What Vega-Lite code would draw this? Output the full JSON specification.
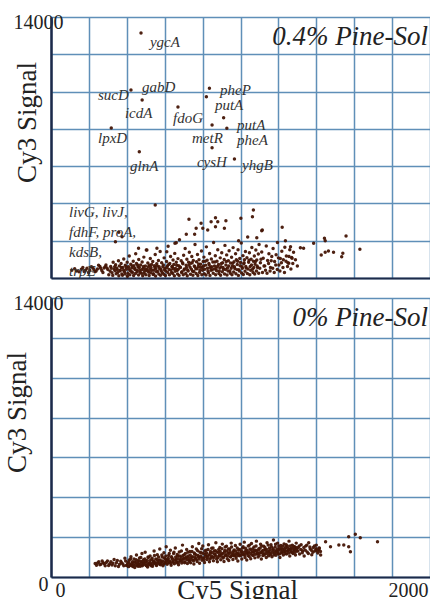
{
"$schema": "https://vega.github.io/schema/vega-lite/v6.json",
"background": "white",
"padding": {"left": 3, "top": 12, "right": 0, "bottom": 0},
"spacing": 20,
"bounds": "flush",
"config": {"view": {"stroke": null}, "axis": {"labelFont": "Liberation Serif", "titleFont": "Liberation Serif", "labelColor": "#222222", "titleColor": "#222222", "titleFontWeight": "normal", "gridColor": "#5f8fb8", "gridWidth": 1.5, "gridOpacity": 1, "domainColor": "#1c2a4a", "ticks": false, "labelOverlap": false, "labelFlush": false, "tickCount": 30}},
"datasets": {
"top": [
{"x":110,"y":420},{"x":135,"y":380},{"x":160,"y":470},{"x":175,"y":350},{"x":190,"y":520},{"x":205,"y":410},{"x":220,"y":560},{"x":232,"y":330},{"x":245,"y":480},{"x":258,"y":620},{"x":268,"y":400},{"x":280,"y":540},{"x":290,"y":700},{"x":300,"y":450},{"x":312,"y":360},
{"x":125,"y":500},{"x":148,"y":330},{"x":168,"y":560},{"x":183,"y":420},{"x":198,"y":300},{"x":213,"y":600},{"x":226,"y":460},{"x":238,"y":380},{"x":251,"y":690},{"x":262,"y":520},{"x":274,"y":300},{"x":286,"y":610},{"x":296,"y":540},
{"x":315,"y":620},{"x":322,"y":280},{"x":328,"y":850},{"x":333,"y":470},{"x":338,"y":390},{"x":341,"y":710},
{"x":347,"y":540},{"x":352,"y":300},{"x":356,"y":930},{"x":361,"y":650},{"x":366,"y":420},{"x":370,"y":780},{"x":374,"y":210},
{"x":379,"y":560},{"x":384,"y":1020},{"x":388,"y":340},{"x":392,"y":690},{"x":397,"y":470},{"x":402,"y":850},{"x":406,"y":250},{"x":409,"y":610},
{"x":413,"y":1180},{"x":417,"y":400},{"x":421,"y":740},{"x":426,"y":530},{"x":430,"y":290},{"x":434,"y":900},{"x":438,"y":660},
{"x":443,"y":450},{"x":447,"y":1300},{"x":451,"y":780},{"x":455,"y":330},{"x":459,"y":590},{"x":463,"y":990},{"x":468,"y":420},
{"x":473,"y":700},{"x":477,"y":260},{"x":481,"y":860},{"x":486,"y":520},{"x":490,"y":1120},{"x":494,"y":380},{"x":498,"y":640},
{"x":503,"y":1500},{"x":507,"y":470},{"x":511,"y":800},{"x":516,"y":310},{"x":520,"y":690},{"x":524,"y":1050},{"x":528,"y":560},
{"x":533,"y":420},{"x":537,"y":880},{"x":541,"y":230},{"x":546,"y":660},{"x":550,"y":1260},{"x":554,"y":500},{"x":558,"y":760},
{"x":563,"y":350},{"x":567,"y":940},{"x":571,"y":610},{"x":576,"y":1420},{"x":580,"y":470},{"x":584,"y":820},{"x":588,"y":280},
{"x":593,"y":700},{"x":597,"y":1080},{"x":601,"y":520},{"x":606,"y":380},{"x":610,"y":890},{"x":614,"y":640},{"x":618,"y":1700},
{"x":623,"y":460},{"x":627,"y":780},{"x":631,"y":1150},{"x":636,"y":300},{"x":640,"y":590},{"x":644,"y":960},{"x":648,"y":720},
{"x":653,"y":1320},{"x":657,"y":510},{"x":661,"y":850},{"x":666,"y":400},{"x":670,"y":1040},{"x":674,"y":660},{"x":678,"y":2050},
{"x":683,"y":560},{"x":687,"y":920},{"x":691,"y":340},{"x":696,"y":760},{"x":700,"y":1220},{"x":704,"y":480},{"x":708,"y":1580},
{"x":713,"y":690},{"x":717,"y":1010},{"x":721,"y":430},{"x":726,"y":850},{"x":730,"y":1380},{"x":734,"y":580},{"x":738,"y":790},
{"x":743,"y":1150},{"x":747,"y":360},{"x":751,"y":940},{"x":756,"y":640},{"x":760,"y":1800},{"x":764,"y":500},{"x":768,"y":870},
{"x":773,"y":1260},{"x":777,"y":620},{"x":781,"y":980},{"x":786,"y":410},{"x":790,"y":740},{"x":794,"y":1450},{"x":798,"y":560},
{"x":803,"y":880},{"x":807,"y":1120},{"x":811,"y":470},{"x":816,"y":690},{"x":820,"y":1670},{"x":824,"y":950},{"x":828,"y":380},
{"x":833,"y":780},{"x":837,"y":1310},{"x":841,"y":560},{"x":846,"y":1020},{"x":850,"y":440},{"x":854,"y":860},{"x":858,"y":1900},
{"x":863,"y":650},{"x":867,"y":1190},{"x":871,"y":510},{"x":876,"y":900},{"x":880,"y":1520},{"x":884,"y":720},{"x":888,"y":380},
{"x":893,"y":1080},{"x":897,"y":600},{"x":901,"y":1350},{"x":906,"y":820},{"x":910,"y":470},{"x":914,"y":990},{"x":918,"y":1750},
{"x":923,"y":700},{"x":927,"y":1240},{"x":931,"y":540},{"x":936,"y":920},{"x":940,"y":1460},{"x":944,"y":380},{"x":948,"y":800},
{"x":953,"y":1110},{"x":957,"y":640},{"x":961,"y":1630},{"x":966,"y":870},{"x":970,"y":510},{"x":974,"y":1300},{"x":978,"y":980},
{"x":983,"y":720},{"x":987,"y":1520},{"x":991,"y":450},{"x":996,"y":1050},{"x":1000,"y":830},{"x":1004,"y":1880},{"x":1008,"y":600},
{"x":1013,"y":1200},{"x":1017,"y":760},{"x":1021,"y":980},{"x":1026,"y":1420},{"x":1030,"y":540},{"x":1034,"y":1090},{"x":1038,"y":2200},
{"x":1043,"y":850},{"x":1047,"y":1350},{"x":1051,"y":620},{"x":1056,"y":1010},{"x":1060,"y":1640},{"x":1064,"y":470},{"x":1068,"y":900},
{"x":1073,"y":1180},{"x":1077,"y":740},{"x":1081,"y":1500},{"x":1086,"y":960},{"x":1090,"y":560},{"x":1094,"y":1290},{"x":1098,"y":1800},
{"x":1105,"y":820},{"x":1112,"y":1400},{"x":1120,"y":1060},{"x":1128,"y":650},{"x":1136,"y":1720},{"x":1143,"y":940},{"x":1150,"y":1300},{"x":1158,"y":560},{"x":1165,"y":1150},{"x":1172,"y":1580},{"x":1180,"y":880},{"x":1188,"y":1250},{"x":1195,"y":1900},{"x":1203,"y":700},{"x":1210,"y":1050},{"x":1218,"y":1430},{"x":1226,"y":980},{"x":1234,"y":1650},{"x":1242,"y":1180},{"x":1250,"y":820},{"x":1260,"y":1520},{"x":1270,"y":1100},{"x":1280,"y":1380},
{"x":305,"y":180},{"x":318,"y":520},{"x":326,"y":140},{"x":336,"y":600},{"x":344,"y":230},{"x":350,"y":450},{"x":358,"y":120},{"x":363,"y":380},{"x":371,"y":560},{"x":377,"y":150},{"x":383,"y":420},{"x":391,"y":220},{"x":396,"y":600},{"x":403,"y":90},{"x":411,"y":480},{"x":416,"y":180},{"x":424,"y":350},{"x":428,"y":640},{"x":436,"y":130},{"x":441,"y":520},{"x":446,"y":240},{"x":453,"y":420},{"x":457,"y":700},{"x":462,"y":160},{"x":466,"y":560},{"x":471,"y":290},{"x":479,"y":440},{"x":484,"y":120},{"x":488,"y":620},{"x":492,"y":250},{"x":497,"y":480},{"x":501,"y":170},{"x":509,"y":380},{"x":514,"y":600},{"x":518,"y":130},{"x":522,"y":460},{"x":527,"y":280},{"x":531,"y":720},{"x":539,"y":190},{"x":544,"y":410},{"x":548,"y":560},{"x":552,"y":110},{"x":557,"y":330},{"x":561,"y":640},{"x":569,"y":220},{"x":573,"y":500},{"x":578,"y":150},{"x":582,"y":380},{"x":590,"y":610},{"x":595,"y":200},{"x":599,"y":440},{"x":604,"y":130},{"x":612,"y":560},{"x":616,"y":290},{"x":621,"y":720},{"x":625,"y":170},{"x":633,"y":430},{"x":638,"y":620},{"x":642,"y":240},{"x":646,"y":500},{"x":651,"y":120},{"x":655,"y":360},{"x":663,"y":680},{"x":668,"y":210},{"x":672,"y":470},{"x":676,"y":140},{"x":681,"y":590},{"x":689,"y":300},{"x":694,"y":820},{"x":698,"y":170},{"x":702,"y":430},{"x":711,"y":240},{"x":715,"y":560},{"x":719,"y":120},{"x":724,"y":380},{"x":728,"y":690},{"x":736,"y":200},{"x":741,"y":470},{"x":745,"y":820},{"x":749,"y":150},{"x":754,"y":350},{"x":758,"y":620},{"x":766,"y":240},{"x":771,"y":500},{"x":775,"y":130},{"x":779,"y":750},{"x":784,"y":290},{"x":788,"y":580},{"x":796,"y":180},{"x":800,"y":420},{"x":805,"y":650},{"x":809,"y":230},{"x":814,"y":900},{"x":818,"y":160},{"x":826,"y":520},{"x":831,"y":280},{"x":835,"y":700},{"x":839,"y":140},{"x":844,"y":420},{"x":848,"y":610},{"x":856,"y":250},{"x":861,"y":480},{"x":865,"y":860},{"x":869,"y":170},{"x":874,"y":390},{"x":878,"y":620},{"x":886,"y":240},{"x":891,"y":530},{"x":895,"y":150},{"x":899,"y":780},{"x":904,"y":330},{"x":908,"y":560},{"x":916,"y":210},{"x":921,"y":460},{"x":925,"y":880},{"x":929,"y":160},{"x":934,"y":370},{"x":938,"y":640},{"x":946,"y":260},{"x":951,"y":520},{"x":955,"y":180},{"x":959,"y":790},{"x":964,"y":320},{"x":968,"y":600},{"x":976,"y":230},{"x":981,"y":450},{"x":985,"y":900},{"x":989,"y":140},{"x":994,"y":380},{"x":998,"y":660},{"x":1006,"y":270},{"x":1010,"y":520},{"x":1015,"y":190},{"x":1019,"y":820},{"x":1024,"y":360},{"x":1028,"y":620},{"x":1036,"y":240},{"x":1040,"y":480},{"x":1045,"y":950},{"x":1049,"y":180},{"x":1054,"y":410},{"x":1058,"y":700},{"x":1066,"y":300},{"x":1070,"y":560},{"x":1075,"y":210},{"x":1079,"y":880},{"x":1084,"y":370},{"x":1088,"y":640},{"x":1096,"y":250},{"x":1102,"y":520},{"x":1108,"y":1000},{"x":1116,"y":300},{"x":1124,"y":640},{"x":1132,"y":420},{"x":1140,"y":260},{"x":1148,"y":780},{"x":1156,"y":380},{"x":1162,"y":930},{"x":1170,"y":520},{"x":1178,"y":300},{"x":1186,"y":700},{"x":1194,"y":460},{"x":1200,"y":1080},{"x":1208,"y":380},{"x":1216,"y":820},{"x":1224,"y":560},{"x":1232,"y":300},{"x":1240,"y":900},{"x":1248,"y":620},{"x":1256,"y":1150},{"x":1266,"y":480},{"x":1276,"y":780},{"x":1290,"y":980},{"x":1300,"y":640},
{"x":1068,"y":3648},{"x":1002,"y":3202},{"x":1063,"y":3290},{"x":728,"y":3150},{"x":868,"y":3236},{"x":923,"y":3075},{"x":880,"y":3020},{"x":792,"y":2932},{"x":845,"y":3020},{"x":766,"y":2664},{"x":801,"y":2664},{"x":827,"y":2575},{"x":868,"y":2753},{"x":915,"y":2664},{"x":714,"y":2342},{"x":758,"y":2342},{"x":1112,"y":2539},{"x":1086,"y":2163},{"x":1220,"y":2717},{"x":1237,"y":2002},{"x":661,"y":1895},{"x":990,"y":2002},{"x":1115,"y":2575},
{"x":1443,"y":2127},{"x":1447,"y":2002},{"x":1557,"y":2253},{"x":1386,"y":1860},{"x":1630,"y":1540},{"x":1426,"y":1234},{"x":1464,"y":1448},{"x":1491,"y":1377},{"x":1540,"y":1323},{"x":1534,"y":1144},{"x":1447,"y":1377},{"x":1316,"y":1627},{"x":1264,"y":1680},{"x":1333,"y":1594},{"x":1272,"y":1057},{"x":1255,"y":790},
{"x":358,"y":2450},{"x":375,"y":2215},{"x":340,"y":1947},{"x":550,"y":3916},{"x":462,"y":1593},{"x":506,"y":1502},{"x":559,"y":1593},{"x":611,"y":1410},{"x":654,"y":1861},
{"x":475,"y":13140},{"x":422,"y":10085},{"x":481,"y":9548},{"x":670,"y":9172},{"x":318,"y":8046},{"x":836,"y":10175},{"x":820,"y":9725},{"x":911,"y":8598},{"x":850,"y":8207},{"x":928,"y":8030},{"x":850,"y":6990},{"x":968,"y":6383},{"x":466,"y":6775}
],
"bottom": [
{"x":233,"y":680},{"x":240,"y":590},{"x":252,"y":760},{"x":263,"y":640},{"x":275,"y":720},{"x":286,"y":560},{"x":298,"y":810},{"x":310,"y":670},{"x":322,"y":600},{"x":333,"y":880},{"x":345,"y":720},{"x":356,"y":530},{"x":368,"y":790},{"x":379,"y":650},{"x":390,"y":940},{"x":398,"y":580},
{"x":246,"y":700},{"x":258,"y":620},{"x":270,"y":800},{"x":281,"y":660},{"x":292,"y":730},{"x":304,"y":580},{"x":316,"y":760},{"x":327,"y":690},{"x":339,"y":560},{"x":350,"y":830},{"x":362,"y":640},{"x":373,"y":720},{"x":384,"y":560},{"x":394,"y":800},{"x":402,"y":610},
{"x":405,"y":700},{"x":409,"y":520},{"x":413,"y":860},{"x":418,"y":640},{"x":422,"y":1020},{"x":426,"y":580},{"x":430,"y":760},
{"x":434,"y":620},{"x":438,"y":900},{"x":442,"y":480},{"x":447,"y":730},{"x":451,"y":1100},{"x":455,"y":560},{"x":459,"y":820},
{"x":463,"y":670},{"x":467,"y":950},{"x":471,"y":540},{"x":476,"y":780},{"x":480,"y":1180},{"x":484,"y":610},{"x":488,"y":870},
{"x":493,"y":720},{"x":497,"y":1240},{"x":501,"y":590},{"x":506,"y":830},{"x":510,"y":500},{"x":514,"y":980},{"x":518,"y":680},
{"x":523,"y":1050},{"x":527,"y":630},{"x":531,"y":880},{"x":536,"y":540},{"x":540,"y":760},{"x":544,"y":1300},{"x":548,"y":690},
{"x":553,"y":900},{"x":557,"y":580},{"x":561,"y":1120},{"x":566,"y":720},{"x":570,"y":840},{"x":574,"y":1400},{"x":578,"y":620},
{"x":583,"y":770},{"x":587,"y":1000},{"x":591,"y":560},{"x":596,"y":1220},{"x":600,"y":690},{"x":604,"y":910},{"x":608,"y":1520},
{"x":613,"y":640},{"x":617,"y":850},{"x":621,"y":1080},{"x":626,"y":740},{"x":630,"y":1340},{"x":634,"y":590},{"x":638,"y":960},
{"x":643,"y":780},{"x":647,"y":1180},{"x":651,"y":660},{"x":656,"y":1460},{"x":660,"y":890},{"x":664,"y":720},{"x":668,"y":1050},
{"x":673,"y":620},{"x":677,"y":1250},{"x":681,"y":830},{"x":686,"y":1000},{"x":690,"y":700},{"x":694,"y":1600},{"x":698,"y":900},
{"x":703,"y":1120},{"x":707,"y":760},{"x":711,"y":940},{"x":716,"y":1380},{"x":720,"y":680},{"x":724,"y":1060},{"x":728,"y":840},
{"x":733,"y":1280},{"x":737,"y":720},{"x":741,"y":990},{"x":746,"y":1520},{"x":750,"y":860},{"x":754,"y":650},{"x":758,"y":1150},
{"x":763,"y":920},{"x":767,"y":1400},{"x":771,"y":780},{"x":776,"y":1080},{"x":780,"y":1680},{"x":784,"y":690},{"x":788,"y":1000},
{"x":793,"y":1220},{"x":797,"y":840},{"x":801,"y":1560},{"x":806,"y":960},{"x":810,"y":730},{"x":814,"y":1130},{"x":818,"y":1340},
{"x":823,"y":880},{"x":827,"y":1050},{"x":831,"y":1620},{"x":836,"y":770},{"x":840,"y":1190},{"x":844,"y":950},{"x":848,"y":1440},
{"x":853,"y":1000},{"x":857,"y":820},{"x":861,"y":1300},{"x":866,"y":1120},{"x":870,"y":1720},{"x":874,"y":900},{"x":878,"y":760},
{"x":883,"y":1240},{"x":887,"y":1050},{"x":891,"y":1480},{"x":896,"y":870},{"x":900,"y":1160},{"x":904,"y":1650},{"x":908,"y":950},
{"x":913,"y":780},{"x":917,"y":1330},{"x":921,"y":1080},{"x":926,"y":1540},{"x":930,"y":920},{"x":934,"y":1200},{"x":938,"y":830},
{"x":943,"y":1410},{"x":947,"y":1000},{"x":951,"y":1700},{"x":956,"y":1120},{"x":960,"y":880},{"x":964,"y":1290},{"x":968,"y":1060},
{"x":973,"y":1580},{"x":977,"y":940},{"x":981,"y":1180},{"x":986,"y":800},{"x":990,"y":1360},{"x":994,"y":1070},{"x":998,"y":1640},
{"x":1003,"y":1240},{"x":1007,"y":900},{"x":1011,"y":1450},{"x":1016,"y":1110},{"x":1020,"y":1750},{"x":1024,"y":980},{"x":1028,"y":1320},
{"x":1033,"y":850},{"x":1037,"y":1190},{"x":1041,"y":1560},{"x":1046,"y":1030},{"x":1050,"y":1400},{"x":1054,"y":920},{"x":1058,"y":1680},
{"x":1063,"y":1260},{"x":1067,"y":1080},{"x":1071,"y":1500},{"x":1076,"y":960},{"x":1080,"y":1340},{"x":1084,"y":1800},{"x":1088,"y":1150},
{"x":1093,"y":1000},{"x":1097,"y":1420},{"x":1101,"y":1200},{"x":1106,"y":1640},{"x":1110,"y":900},{"x":1114,"y":1300},{"x":1118,"y":1080},
{"x":1123,"y":1540},{"x":1127,"y":1160},{"x":1131,"y":1380},{"x":1136,"y":980},{"x":1140,"y":1720},{"x":1144,"y":1250},{"x":1148,"y":1060},
{"x":1153,"y":1450},{"x":1157,"y":1180},{"x":1161,"y":1620},{"x":1166,"y":1020},{"x":1170,"y":1350},{"x":1174,"y":1860},{"x":1178,"y":1200},
{"x":1183,"y":1500},{"x":1187,"y":1090},{"x":1191,"y":1300},{"x":1196,"y":1700},{"x":1200,"y":1150},{"x":1204,"y":1420},{"x":1208,"y":980},
{"x":1213,"y":1580},{"x":1217,"y":1240},{"x":1221,"y":1380},{"x":1226,"y":1100},{"x":1230,"y":1660},{"x":1234,"y":1300},{"x":1238,"y":1480},
{"x":1243,"y":1150},{"x":1247,"y":1560},{"x":1251,"y":1320},{"x":1256,"y":1800},{"x":1260,"y":1050},{"x":1264,"y":1420},{"x":1268,"y":1240},
{"x":1273,"y":1600},{"x":1277,"y":1180},{"x":1281,"y":1380},{"x":1286,"y":1520},{"x":1290,"y":1100},{"x":1294,"y":1700},{"x":1298,"y":1300},
{"x":1305,"y":1480},{"x":1312,"y":1150},{"x":1320,"y":1620},{"x":1328,"y":1320},{"x":1336,"y":1050},{"x":1344,"y":1550},{"x":1352,"y":1250},{"x":1360,"y":1720},{"x":1368,"y":1400},{"x":1376,"y":1120},{"x":1384,"y":1480},{"x":1392,"y":1300},{"x":1400,"y":1600},{"x":1408,"y":1200},{"x":1416,"y":1450},
{"x":411,"y":760},{"x":416,"y":570},{"x":420,"y":900},{"x":428,"y":680},{"x":432,"y":530},{"x":440,"y":750},{"x":445,"y":600},{"x":449,"y":870},{"x":457,"y":680},{"x":461,"y":540},{"x":465,"y":800},{"x":469,"y":620},{"x":474,"y":980},{"x":478,"y":700},{"x":482,"y":560},{"x":486,"y":760},{"x":491,"y":640},{"x":495,"y":900},{"x":499,"y":780},{"x":504,"y":560},{"x":508,"y":700},{"x":512,"y":1000},{"x":516,"y":620},{"x":521,"y":820},{"x":525,"y":700},{"x":529,"y":560},{"x":534,"y":940},{"x":538,"y":650},{"x":542,"y":800},{"x":546,"y":1080},{"x":551,"y":720},{"x":555,"y":620},{"x":559,"y":880},{"x":564,"y":760},{"x":568,"y":1000},{"x":572,"y":650},{"x":576,"y":860},{"x":581,"y":700},{"x":585,"y":1100},{"x":589,"y":800},{"x":594,"y":640},{"x":598,"y":950},{"x":602,"y":760},{"x":606,"y":1060},{"x":611,"y":820},{"x":615,"y":700},{"x":619,"y":940},{"x":624,"y":1180},{"x":628,"y":800},{"x":632,"y":680},{"x":636,"y":1020},{"x":641,"y":900},{"x":645,"y":740},{"x":649,"y":1240},{"x":654,"y":860},{"x":658,"y":1000},{"x":662,"y":780},{"x":666,"y":1130},{"x":671,"y":920},{"x":675,"y":740},{"x":679,"y":1060},{"x":684,"y":880},{"x":688,"y":1300},{"x":692,"y":800},{"x":696,"y":1080},{"x":701,"y":940},{"x":705,"y":720},{"x":709,"y":1180},{"x":714,"y":1000},{"x":718,"y":860},{"x":722,"y":1240},{"x":726,"y":960},{"x":731,"y":780},{"x":735,"y":1100},{"x":739,"y":880},{"x":744,"y":1280},{"x":748,"y":1020},{"x":752,"y":820},{"x":756,"y":1200},{"x":761,"y":980},{"x":765,"y":1120},{"x":769,"y":860},{"x":774,"y":1320},{"x":778,"y":1000},{"x":782,"y":900},{"x":786,"y":1240},{"x":791,"y":1060},{"x":795,"y":1420},{"x":799,"y":960},{"x":804,"y":1180},{"x":808,"y":880},{"x":812,"y":1300},{"x":816,"y":1040},{"x":821,"y":1200},{"x":825,"y":960},{"x":829,"y":1380},{"x":834,"y":1100},{"x":838,"y":900},{"x":842,"y":1280},{"x":846,"y":1060},{"x":851,"y":1220},{"x":855,"y":1450},{"x":859,"y":980},{"x":863,"y":1160},{"x":868,"y":1320},{"x":872,"y":1040},{"x":876,"y":1240},{"x":881,"y":960},{"x":885,"y":1380},{"x":889,"y":1120},{"x":893,"y":1280},{"x":898,"y":1040},{"x":902,"y":1420},{"x":906,"y":1180},{"x":911,"y":1000},{"x":915,"y":1240},{"x":919,"y":1500},{"x":923,"y":1120},{"x":928,"y":1300},{"x":932,"y":1060},{"x":936,"y":1400},{"x":941,"y":1180},{"x":945,"y":1280},{"x":949,"y":1040},{"x":953,"y":1500},{"x":958,"y":1220},{"x":962,"y":1080},{"x":966,"y":1360},{"x":971,"y":1160},{"x":975,"y":1300},{"x":979,"y":1060},{"x":983,"y":1460},{"x":988,"y":1200},{"x":992,"y":1120},{"x":996,"y":1380},{"x":1001,"y":1080},{"x":1005,"y":1300},{"x":1009,"y":1180},{"x":1014,"y":1520},{"x":1018,"y":1240},{"x":1022,"y":1120},{"x":1026,"y":1440},{"x":1031,"y":1200},{"x":1035,"y":1340},{"x":1039,"y":1080},{"x":1044,"y":1260},{"x":1048,"y":1600},{"x":1052,"y":1180},{"x":1056,"y":1360},{"x":1061,"y":1100},{"x":1065,"y":1420},{"x":1069,"y":1240},{"x":1074,"y":1320},{"x":1078,"y":1140},{"x":1082,"y":1560},{"x":1086,"y":1280},{"x":1091,"y":1180},{"x":1095,"y":1360},{"x":1099,"y":1080},{"x":1104,"y":1460},{"x":1108,"y":1240},{"x":1112,"y":1560},{"x":1116,"y":1200},{"x":1121,"y":1340},{"x":1125,"y":1100},{"x":1129,"y":1480},{"x":1134,"y":1260},{"x":1138,"y":1380},{"x":1142,"y":1160},{"x":1146,"y":1600},{"x":1151,"y":1280},{"x":1155,"y":1360},{"x":1159,"y":1120},{"x":1164,"y":1500},{"x":1168,"y":1240},{"x":1172,"y":1420},{"x":1176,"y":1100},{"x":1181,"y":1320},{"x":1185,"y":1640},{"x":1189,"y":1220},{"x":1194,"y":1400},{"x":1198,"y":1280},{"x":1202,"y":1560},{"x":1206,"y":1160},{"x":1211,"y":1360},{"x":1215,"y":1440},{"x":1219,"y":1200},{"x":1224,"y":1540},{"x":1228,"y":1280},{"x":1232,"y":1400},{"x":1236,"y":1180},{"x":1241,"y":1620},{"x":1245,"y":1300},{"x":1249,"y":1440},{"x":1254,"y":1200},{"x":1258,"y":1380},{"x":1262,"y":1560},{"x":1266,"y":1320},{"x":1271,"y":1460},{"x":1275,"y":1240},{"x":1279,"y":1540},{"x":1284,"y":1360},{"x":1288,"y":1240},{"x":1292,"y":1480},{"x":1296,"y":1400},{"x":1303,"y":1300},{"x":1310,"y":1560},{"x":1318,"y":1380},{"x":1326,"y":1220},{"x":1334,"y":1480},{"x":1342,"y":1340},{"x":1350,"y":1600},{"x":1358,"y":1180},{"x":1366,"y":1500},{"x":1374,"y":1340},{"x":1382,"y":1240},{"x":1390,"y":1560},{"x":1398,"y":1420},{"x":1406,"y":1300},{"x":1414,"y":1380},{"x":1422,"y":1280},
{"x":1449,"y":1771},{"x":1475,"y":1521},{"x":1519,"y":1606},{"x":1545,"y":1606},{"x":1571,"y":1521},{"x":1580,"y":1270},{"x":1571,"y":2022},{"x":1606,"y":2143},{"x":1632,"y":1972},{"x":1723,"y":1771},{"x":1423,"y":1104},{"x":1414,"y":1440},{"x":1400,"y":1380}
],
"labels": [
{"label":"ygcA","x":522,"y":12675},{"label":"gabD","x":480,"y":10245},{"label":"sucD","x":248,"y":9816},{"label":"icdA","x":390,"y":8850},{"label":"fdoG","x":644,"y":8582},{"label":"lpxD","x":248,"y":7510},{"label":"glnA","x":417,"y":6008},{"label":"pheP","x":892,"y":10084},{"label":"putA","x":865,"y":9280},{"label":"putA","x":982,"y":8207},{"label":"pheA","x":982,"y":7402},{"label":"metR","x":744,"y":7526},{"label":"cysH","x":770,"y":6206},{"label":"yhgB","x":1008,"y":6061},{"label":"livG, livJ,","x":95,"y":3556},{"label":"fdhF, proA,","x":95,"y":2484},{"label":"kdsB,","x":95,"y":1411},{"label":"trpE","x":95,"y":375}
]
},
"vconcat": [
{
"width": 379, "height": 261,
"layer": [
{"data": {"name": "top"}, "mark": {"type": "circle", "size": 12, "color": "#451505", "opacity": 0.95},
"encoding": {
"x": {"field": "x", "type": "quantitative", "scale": {"domain": [0, 2000], "nice": false},
"axis": {"values": [0,200,400,600,800,1000,1200,1400,1600,1800,2000], "tickCount": 30, "labels": false, "title": null, "domainWidth": 2}},
"y": {"field": "y", "type": "quantitative", "scale": {"domain": [0, 14000], "nice": false},
"axis": {"values": [0,2000,4000,6000,8000,10000,12000,14000], "tickCount": 30, "format": "d", "labelExpr": "datum.value == 14000 ? datum.label : ''", "labelFontSize": 20, "labelAlign": "right", "labelBaseline": "middle", "labelPadding": -12, "labelOffset": 5, "title": "Cy3 Signal", "titleFontSize": 27, "titleAngle": -90, "titleAlign": "center", "titleBaseline": "alphabetic", "titleX": -16, "titleY": 105, "domainWidth": 2.5}}
}},
{"data": {"name": "labels"}, "mark": {"type": "text", "align": "left", "baseline": "middle", "font": "Liberation Serif", "fontStyle": "italic", "fontSize": 15, "color": "#333333"},
"encoding": {"x": {"field": "x", "type": "quantitative"}, "y": {"field": "y", "type": "quantitative"}, "text": {"field": "label"}}},
{"data": {"values": [{"x": 1990, "y": 12500, "t": "0.4% Pine-Sol"}]}, "mark": {"type": "text", "align": "right", "baseline": "alphabetic", "font": "Liberation Serif", "fontStyle": "italic", "fontSize": 27, "color": "#222222"},
"encoding": {"x": {"field": "x", "type": "quantitative"}, "y": {"field": "y", "type": "quantitative"}, "text": {"field": "t"}}}
]
},
{
"width": 379, "height": 279,
"layer": [
{"data": {"name": "bottom"}, "mark": {"type": "circle", "size": 12, "color": "#451505", "opacity": 0.95},
"encoding": {
"x": {"field": "x", "type": "quantitative", "scale": {"domain": [0, 2000], "nice": false},
"axis": {"values": [0,200,400,600,800,1000,1200,1400,1600,1800,2000], "tickCount": 30, "format": "d", "labelExpr": "datum.value == 0 || datum.value == 2000 ? datum.label : ''", "labelFontSize": 20, "labelAlign": {"expr": "datum.value == 0 ? 'left' : 'right'"}, "labelOffset": {"expr": "datum.value == 0 ? 4 : -2"}, "labelBaseline": "top", "labelPadding": 3, "title": "Cy5 Signal", "titleFontSize": 27, "titleAlign": "center", "titleBaseline": "alphabetic", "titleX": 186, "titleY": 21, "domainWidth": 2}},
"y": {"field": "y", "type": "quantitative", "scale": {"domain": [0, 14000], "nice": false},
"axis": {"values": [0,2000,4000,6000,8000,10000,12000,14000], "tickCount": 30, "format": "d", "labelExpr": "datum.value == 14000 || datum.value == 0 ? datum.label : ''", "labelFontSize": 20, "labelAlign": "right", "labelBaseline": "middle", "labelPadding": {"expr": "datum.value == 0 ? 3 : -12"}, "labelOffset": {"expr": "datum.value == 0 ? 7 : 5"}, "title": "Cy3 Signal", "titleFontSize": 27, "titleAngle": -90, "titleAlign": "center", "titleBaseline": "alphabetic", "titleX": -26, "titleY": 114, "domainWidth": 2.5}}
}},
{"data": {"values": [{"x": 1990, "y": 12600, "t": "0% Pine-Sol"}]}, "mark": {"type": "text", "align": "right", "baseline": "alphabetic", "font": "Liberation Serif", "fontStyle": "italic", "fontSize": 27, "color": "#222222"},
"encoding": {"x": {"field": "x", "type": "quantitative"}, "y": {"field": "y", "type": "quantitative"}, "text": {"field": "t"}}}
]
}
]
}
